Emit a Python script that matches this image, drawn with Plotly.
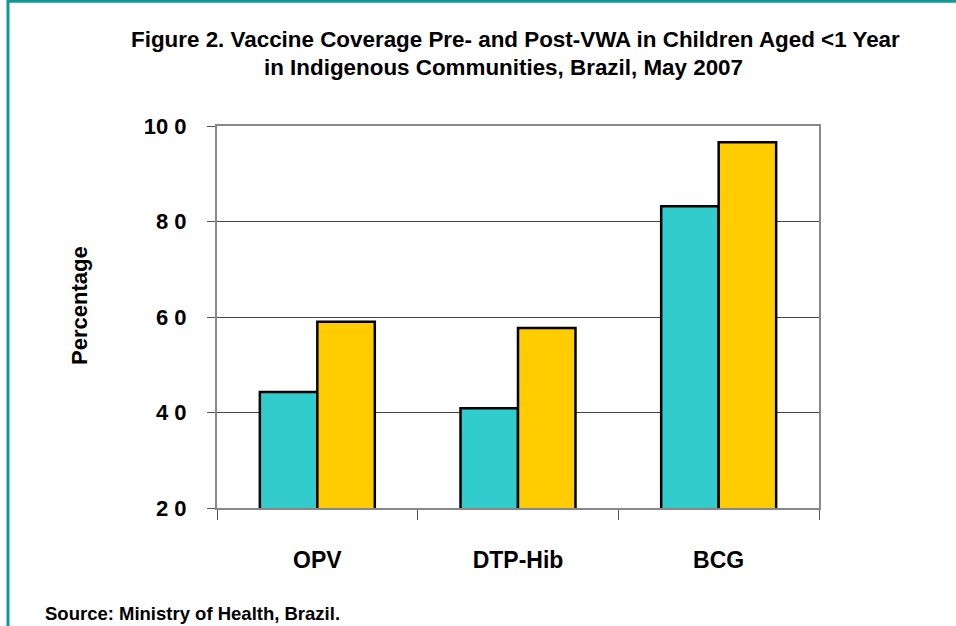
import plotly.graph_objects as go

categories = ["OPV", "DTP-Hib", "BCG"]
pre_vwa = [44.3, 40.9, 83.2]
post_vwa = [59.0, 57.7, 96.6]
tick_vals = [20, 40, 60, 80, 100]
tick_text = ["2 0", "4 0", "6 0", "8 0", "10 0"]

W, H = 956, 626
L, R, T, B = 217, 137, 126, 118
pw, ph = W - L - R, H - T - B

def px(x):
    return (x - L) / pw

def py(y):
    return 1 - (y - T) / ph

font = "Liberation Sans, Arial, sans-serif"

fig = go.Figure()
fig.add_trace(go.Bar(x=categories, y=pre_vwa, name="Pre-VWA",
                     marker=dict(color="#33CCCC", line=dict(color="black", width=2.5))))
fig.add_trace(go.Bar(x=categories, y=post_vwa, name="Post-VWA",
                     marker=dict(color="#FFCC00", line=dict(color="black", width=2.5))))

fig.update_layout(
    width=W, height=H,
    margin=dict(l=L, r=R, t=T, b=B),
    paper_bgcolor="white", plot_bgcolor="white",
    barmode="group", bargap=0.427, bargroupgap=0,
    showlegend=False,
    font=dict(family=font, color="black"),
)

fig.update_yaxes(
    range=[20, 100], tickvals=tick_vals, ticktext=tick_text,
    tickfont=dict(size=22, family=font, color="black", weight="bold"),
    ticks="outside", ticklen=8, tickcolor="#555", tickwidth=1,
    showgrid=True, gridcolor="#444", gridwidth=1,
    showline=True, linecolor="#888", linewidth=2, mirror=True,
    zeroline=False, ticklabelstandoff=16,
)
fig.update_xaxes(
    tickson="boundaries", ticks="outside", ticklen=10, tickcolor="#555", tickwidth=1,
    showline=True, linecolor="#888", linewidth=2, mirror=True,
    tickfont=dict(size=23, family=font, color="black", weight="bold"),
    ticklabelstandoff=30,
)

# y-axis title
fig.add_annotation(text="<b>Percentage</b>", textangle=-90,
                   xref="paper", yref="paper", x=px(79), y=py(306), showarrow=False,
                   xanchor="center", yanchor="middle", font=dict(size=22, family=font, color="black"))

# title lines
fig.add_annotation(text="<b>Figure 2. Vaccine Coverage Pre- and Post-VWA in Children Aged <1 Year</b>",
                   xref="paper", yref="paper", x=px(515), y=py(40), showarrow=False,
                   xanchor="center", yanchor="middle", font=dict(size=22.4, family=font, color="black"))
fig.add_annotation(text="<b>in Indigenous Communities, Brazil, May 2007</b>",
                   xref="paper", yref="paper", x=px(503), y=py(68), showarrow=False,
                   xanchor="center", yanchor="middle", font=dict(size=22.4, family=font, color="black"))
fig.add_annotation(text="<b>Source: Ministry of Health, Brazil.</b>",
                   xref="paper", yref="paper", x=px(43), y=py(613), showarrow=False,
                   xanchor="left", yanchor="middle", font=dict(size=18.5, family=font, color="black"))

# figure frame (teal)
fig.add_shape(type="line", xref="paper", yref="paper",
              x0=px(8), x1=px(8), y0=py(0), y1=py(626), line=dict(color="#0E9A9A", width=3))
fig.add_shape(type="line", xref="paper", yref="paper",
              x0=px(7), x1=px(956), y0=py(1.2), y1=py(1.2), line=dict(color="#0E9A9A", width=3))

fig.write_html("out.html", config={"displayModeBar": False},
               post_script="document.body.style.margin='0';document.body.style.overflow='hidden';")
